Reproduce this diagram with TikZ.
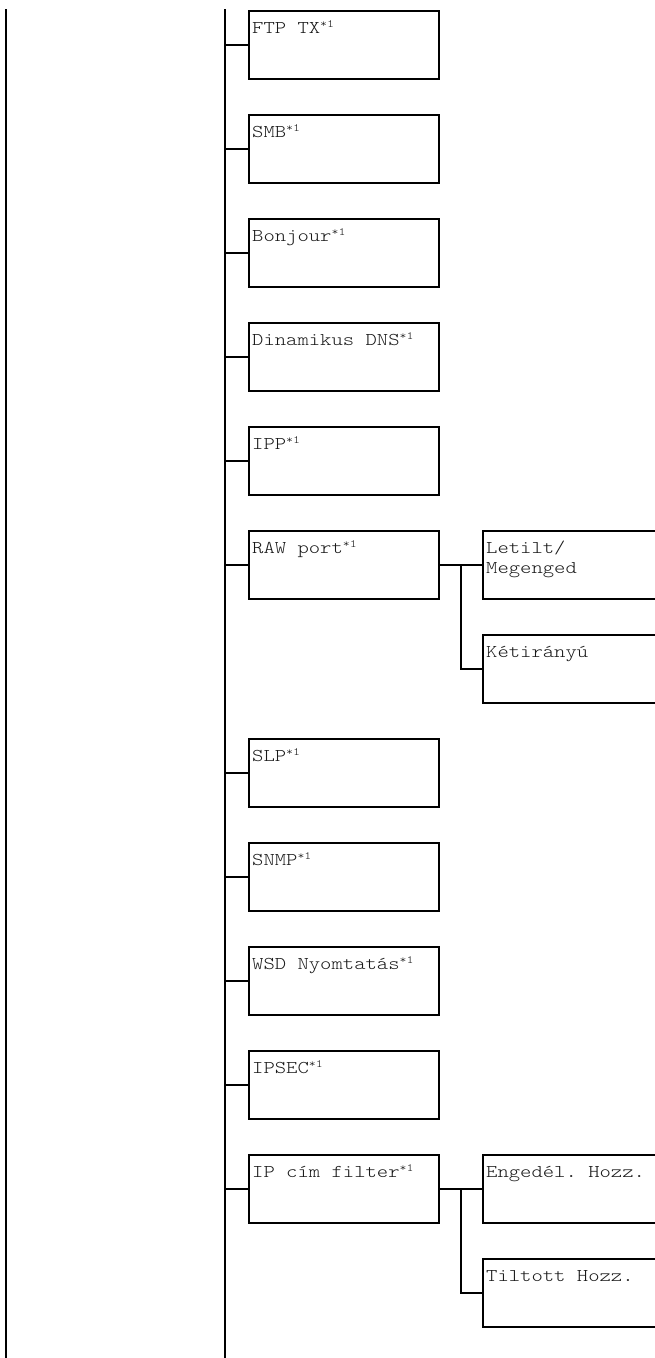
\documentclass[tikz,border=0pt]{standalone}
\usepackage{fontspec}
\setmonofont[FakeStretch=1.2]{Latin Modern Mono Light}
\usetikzlibrary{calc}
\newcommand\starone{\raisebox{6pt}{\fontsize{11}{11}\selectfont*1}}
\newcommand\twolines[2]{\vtop{\hbox{#1}\hbox{#2}}}
\tikzset{
  conn/.style={line width=1.8pt, black},
  lbl/.style={anchor=base west, inner sep=0pt, xshift=4pt, yshift=-23pt,
    font=\ttfamily\fontsize{18}{20}\selectfont, text=black!90},
  menubox/.style={draw, line width=1.6pt, minimum width=190pt, minimum height=68pt,
    inner sep=0pt, anchor=north west, label={[lbl]north west:#1}},
}
\begin{document}
\begin{tikzpicture}[x=1pt,y=-1pt]
\useasboundingbox (0,0) rectangle (655,1358);
\clip (0,0) rectangle (655,1358);
% trunk lines
\coordinate (lt) at (6,9);
\coordinate (lb) at (6,1362);
\coordinate (mt) at (225,9);
\coordinate (mb) at (225,1362);
\draw[conn] (lt) -- (lb);
\draw[conn] (mt) -- (mb);
% main boxes
\node[menubox={FTP TX\starone}] (ftp) at (248,10) {};
\node[menubox={SMB\starone}] (smb) at (248,114) {};
\node[menubox={Bonjour\starone}] (bon) at (248,218) {};
\node[menubox={Dinamikus DNS\starone}] (dns) at (248,322) {};
\node[menubox={IPP\starone}] (ipp) at (248,426) {};
\node[menubox={RAW port\starone}] (raw) at (248,530) {};
\node[menubox={SLP\starone}] (slp) at (248,738) {};
\node[menubox={SNMP\starone}] (snmp) at (248,842) {};
\node[menubox={WSD Nyomtatás\starone}] (wsd) at (248,946) {};
\node[menubox={IPSEC\starone}] (ipsec) at (248,1050) {};
\node[menubox={IP cím filter\starone}] (ipf) at (248,1154) {};
% sub boxes (right edge off the page)
\node[menubox={\twolines{Letilt/}{Megenged}}] (let) at (482,530) {};
\node[menubox={Kétirányú}] (ket) at (482,634) {};
\node[menubox={Engedél. Hozz.}] (eng) at (482,1154) {};
\node[menubox={Tiltott Hozz.}] (til) at (482,1258) {};
% connectors from trunk
\foreach \n in {ftp,smb,bon,dns,ipp,raw,slp,snmp,wsd,ipsec,ipf}
  \draw[conn] (\n.west -| mt) -- (\n.west);
% sub connectors
\draw[conn] (raw.east) -- (let.west);
\coordinate (rj) at ($(raw.east)!0.5!(let.west)$);
\draw[conn] (rj) |- (ket.west);
\draw[conn] (ipf.east) -- (eng.west);
\coordinate (ij) at ($(ipf.east)!0.5!(eng.west)$);
\draw[conn] (ij) |- (til.west);
\end{tikzpicture}
\end{document}
